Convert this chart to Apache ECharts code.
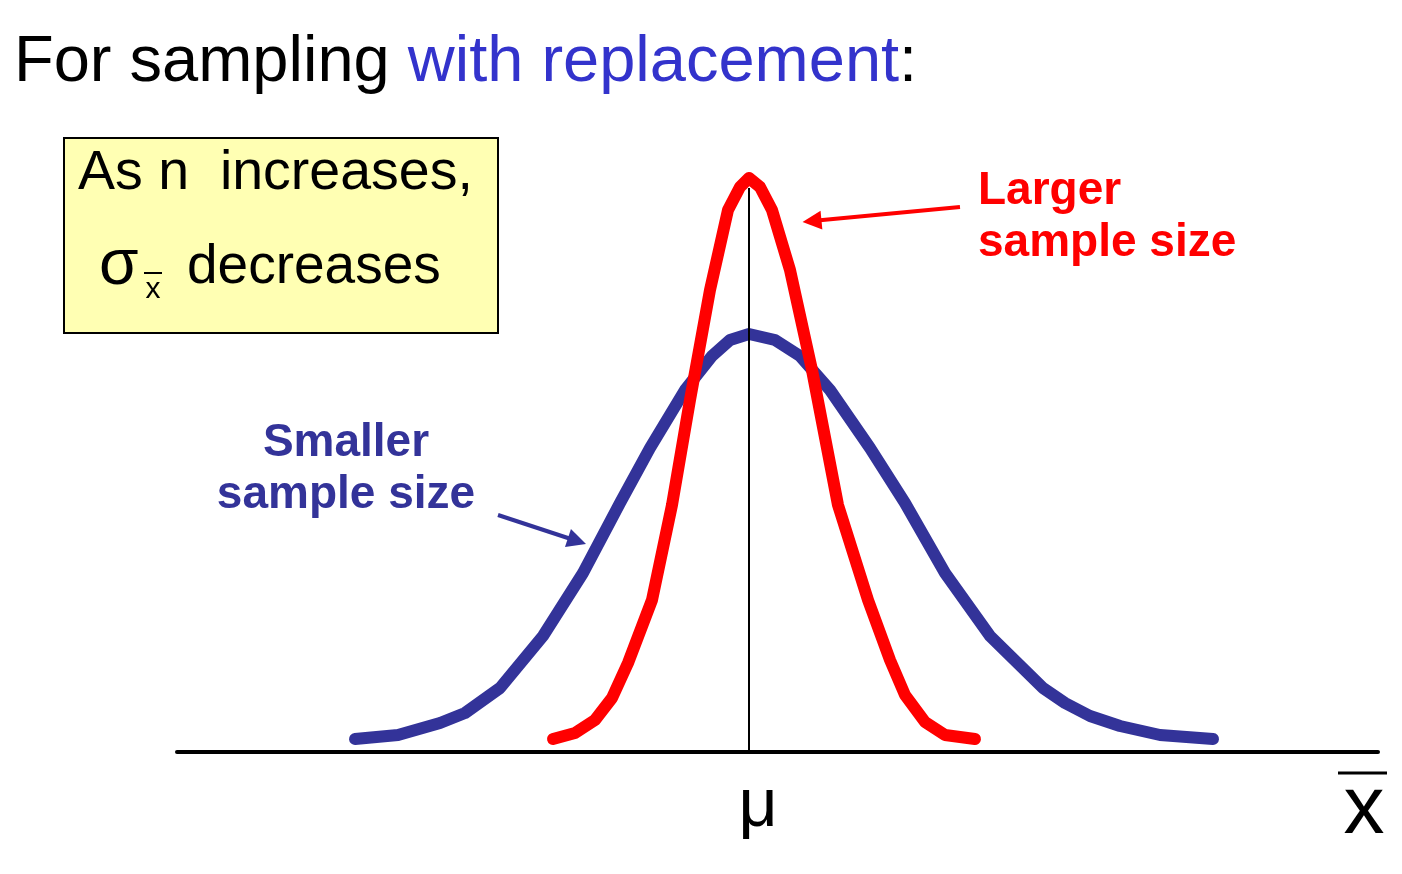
<!DOCTYPE html>
<html>
<head>
<meta charset="utf-8">
<title>Sampling distribution</title>
<script src="https://cdn.jsdelivr.net/npm/echarts@6/dist/echarts.min.js"></script>
<style>
  html, body { margin: 0; padding: 0; background: #fff; }
  #chart { width: 1402px; height: 874px; }
</style>
</head>
<body>
<div id="chart"></div>
<script>
// x in "sigma" units around mu (0), y = density height
const smallerX = [-3.94, -3.51, -3.09, -2.84, -2.49, -2.06, -1.66, -1.29, -0.99, -0.64, -0.37, -0.19, 0, 0.26, 0.51, 0.81, 1.21, 1.56, 1.96, 2.41, 2.94, 3.16, 3.41, 3.71, 4.11, 4.64];
const smallerY = [0.13, 0.17, 0.29, 0.39, 0.64, 1.16, 1.79, 2.49, 3.04, 3.62, 3.96, 4.12, 4.18, 4.12, 3.96, 3.62, 3.04, 2.49, 1.79, 1.16, 0.64, 0.49, 0.36, 0.26, 0.17, 0.13];
const largerX = [-1.96, -1.74, -1.54, -1.37, -1.21, -0.97, -0.77, -0.59, -0.39, -0.21, -0.09, 0, 0.11, 0.23, 0.41, 0.63, 0.89, 1.19, 1.41, 1.56, 1.76, 1.96, 2.26];
const largerY = [0.13, 0.19, 0.32, 0.54, 0.89, 1.52, 2.47, 3.52, 4.62, 5.42, 5.65, 5.74, 5.65, 5.42, 4.82, 3.82, 2.47, 1.52, 0.92, 0.57, 0.30, 0.17, 0.13];
const meanLine = [[0, 0], [0, 5.64]];
const tickValues = [0];
const tickLabels = ['μ'];
// arrow endpoints (data coords)
const smallerArrow = [[-2.51, 2.37], [-1.72, 2.11]];
const largerArrow = [[2.11, 5.45], [0.63, 5.31]];

const FONT = "'Liberation Sans', Arial, sans-serif";
const BLUE = '#333399';
const RED = '#FF0000';

const zip = (xs, ys) => xs.map((x, i) => [x, ys[i]]);

const chart = echarts.init(document.getElementById('chart'));

function arrow(pts, color) {
  return {
    silent: true,
    symbol: ['none', 'triangle'],
    symbolSize: 19,
    label: { show: false },
    itemStyle: { color: color },
    lineStyle: { color: color, width: 4, type: 'solid' },
    data: [[{ coord: pts[0] }, { coord: pts[1] }]]
  };
}

chart.setOption({
  animation: false,
  backgroundColor: '#fff',
  grid: { left: 177, right: 24, top: 152, bottom: 122 },
  xAxis: {
    type: 'value',
    min: -5.72,
    max: 6.29,
    splitLine: { show: false },
    axisTick: { show: false },
    axisLine: { show: true, lineStyle: { color: '#000', width: 4 } },
    axisLabel: {
      customValues: tickValues,
      formatter: v => tickLabels[tickValues.indexOf(v)] || '',
      color: '#000',
      fontFamily: FONT,
      fontSize: 68,
      margin: 21,
      padding: [0, 0, 0, 18]
    }
  },
  yAxis: { type: 'value', min: 0, max: 6, show: false },
  series: [
    {
      name: 'Smaller sample size',
      type: 'line',
      data: zip(smallerX, smallerY),
      showSymbol: false,
      z: 2,
      lineStyle: { color: BLUE, width: 12, cap: 'round', join: 'round' },
      markLine: arrow(smallerArrow, BLUE)
    },
    {
      name: 'Larger sample size',
      type: 'line',
      data: zip(largerX, largerY),
      showSymbol: false,
      z: 3,
      lineStyle: { color: RED, width: 12, cap: 'round', join: 'round' },
      markLine: arrow(largerArrow, RED)
    },
    {
      name: 'mean',
      type: 'line',
      data: meanLine,
      showSymbol: false,
      z: 4,
      lineStyle: { color: '#000', width: 2 }
    }
  ],
  graphic: [
    {
      type: 'text', x: 14, y: 63,
      style: {
        text: '{a|For sampling }{b|with replacement}{a|:}',
        verticalAlign: 'middle',
        rich: {
          a: { fontFamily: FONT, fontSize: 65, fill: '#000' },
          b: { fontFamily: FONT, fontSize: 65, fill: '#3333CC' }
        }
      }
    },
    {
      type: 'rect', shape: { x: 64, y: 138, width: 434, height: 195 },
      style: { fill: '#FFFFB3', stroke: '#000', lineWidth: 2 }
    },
    {
      type: 'text', x: 78, y: 174,
      style: { text: 'As n  increases,', fontFamily: FONT, fontSize: 55.5, fill: '#000', verticalAlign: 'middle' }
    },
    {
      type: 'text', x: 99, y: 266,
      style: { text: 'σ', fontFamily: FONT, fontSize: 64, fill: '#000', verticalAlign: 'middle' }
    },
    {
      type: 'text', x: 153, y: 290,
      style: { text: 'x', fontFamily: FONT, fontSize: 30, fill: '#000', align: 'center', verticalAlign: 'middle' }
    },
    {
      type: 'line', shape: { x1: 144, y1: 273, x2: 162, y2: 273 },
      style: { stroke: '#000', lineWidth: 2 }
    },
    {
      type: 'text', x: 187, y: 268,
      style: { text: 'decreases', fontFamily: FONT, fontSize: 55, fill: '#000', verticalAlign: 'middle' }
    },
    {
      type: 'text', x: 346, y: 469,
      style: {
        text: 'Smaller\nsample size', fontFamily: FONT, fontSize: 46, fontWeight: 'bold',
        lineHeight: 52, fill: BLUE, align: 'center', verticalAlign: 'middle'
      }
    },
    {
      type: 'text', x: 978, y: 217,
      style: {
        text: 'Larger\nsample size', fontFamily: FONT, fontSize: 46, fontWeight: 'bold',
        lineHeight: 52, fill: RED, align: 'left', verticalAlign: 'middle'
      }
    },
    {
      type: 'line', shape: { x1: 1338, y1: 773, x2: 1387, y2: 773 },
      style: { stroke: '#000', lineWidth: 3 }
    },
    {
      type: 'text', x: 1364, y: 810,
      style: { text: 'x', fontFamily: FONT, fontSize: 82, fill: '#000', align: 'center', verticalAlign: 'middle' }
    }
  ]
});
</script>
</body>
</html>
